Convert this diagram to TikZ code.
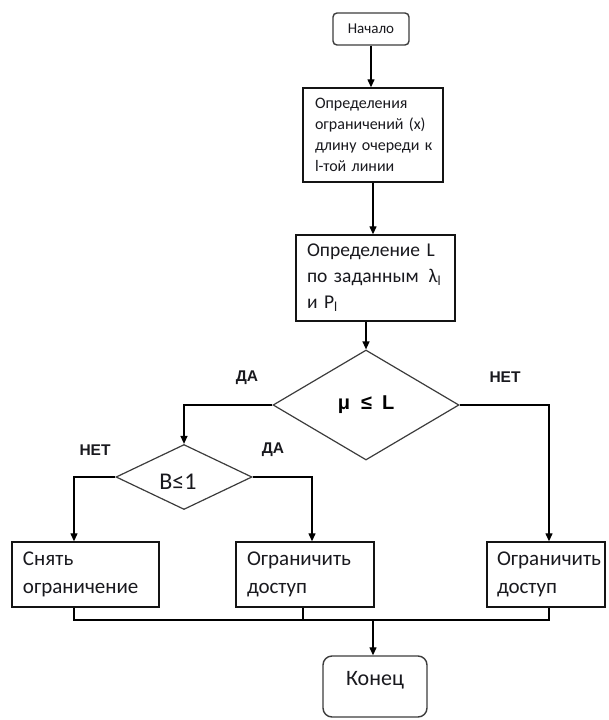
\documentclass[tikz,border=0pt]{standalone}
\usepackage{fontspec}
\setmainfont{Carlito}
\newfontfamily\labfont{Liberation Sans}
\usetikzlibrary{arrows.meta,shapes.geometric}
\hyphenpenalty=10000
\exhyphenpenalty=10000
\definecolor{ink}{RGB}{25,25,30}
\definecolor{boxline}{RGB}{20,20,20}
\definecolor{dline}{RGB}{60,60,60}
\begin{document}
\begin{tikzpicture}[x=1pt,y=-1pt,
  box/.style={draw=boxline, line width=1.4pt, rectangle, fill=white, align=left, text=ink, inner ysep=0pt},
  rbox/.style={draw=dline, line width=1.4pt, rectangle, rounded corners=#1, fill=white, text=ink, align=center},
  dia/.style={draw=dline, line width=1.2pt, diamond, inner sep=0pt, fill=white, text=black},
  lab/.style={font=\labfont\bfseries\fontsize{15.5}{17}\selectfont, text=ink},
  conn/.style={draw=black, line width=1.3pt, -{Triangle[width=7pt,length=8pt]}},
  plain/.style={draw=black, line width=1.3pt}
]
\useasboundingbox (0,0) rectangle (608,720);

% nodes
\node[rbox=4pt, minimum width=76pt, minimum height=32pt, font=\fontsize{15}{18}\selectfont] (start) at (371,29) {Начало};

\node[box, text width=116pt, inner xsep=12pt, minimum height=94pt, font=\fontsize{16}{21}\selectfont] (b2) at (373,135)
  {Определения\\ограничений~(x)\\длину~очереди~к\\l-той~линии};

\node[box, text width=137pt, inner xsep=11pt, minimum height=86pt, font=\fontsize{19.5}{26}\selectfont] (b3) at (375.5,278)
  {Определение~L\\по~заданным~\,λ\textsubscript{l}\\и~P\textsubscript{l}};

\node[dia, minimum width=186pt, minimum height=110pt, font=\labfont\bfseries\fontsize{20}{22}\selectfont] (d1) at (366,405)
  {μ\hspace{11pt}≤\hspace{10pt}L};

\node[dia, minimum width=136pt, minimum height=65pt] (d2) at (184,477) {};
\node[font=\fontsize{24}{26}\selectfont, text=ink, inner sep=0pt] (d2t) at (178,482) {B≤1};

\node[box, text width=125pt, inner xsep=11pt, minimum height=65pt, font=\fontsize{21}{28}\selectfont] (lbox) at (85.5,574.5)
  {Снять\\ограничение};
\node[box, text width=116pt, inner xsep=11pt, minimum height=65pt, font=\fontsize{21}{28}\selectfont] (mbox) at (305,574.5)
  {Ограничить\\доступ};
\node[box, text width=98pt, inner xsep=10pt, minimum height=65pt, font=\fontsize{21}{28}\selectfont] (rbox) at (546,574.5)
  {Ограничить\\доступ};

\node[rbox=9pt, minimum width=104pt, minimum height=61pt, text height=15pt, text depth=17pt, font=\fontsize{22}{24}\selectfont] (end) at (375,686.5) {Конец};

% labels
\node[lab] (l1) at (247,378) {ДА};
\node[lab] (l2) at (505,377) {НЕТ};
\node[lab] (l3) at (95,450) {НЕТ};
\node[lab] (l4) at (273,450) {ДА};

% helper coordinates
\coordinate (lx) at (74,0);
\coordinate (mx) at (312,0);
\coordinate (rx) at (549,0);
\coordinate (mbx) at (303,0);
\coordinate (join) at (373,620);

% connectors
\draw[conn] (start.south) -- (start.south |- b2.north);
\draw[conn] (b2.south) -- (b2.south |- b3.north);
\draw[conn] (d1.north |- b3.south) -- (d1.north);
\draw[conn] (d1.west) -| (d2.north);
\draw[conn] (d1.east) -| (rx |- rbox.north);
\draw[conn] (d2.west) -| (lx |- lbox.north);
\draw[conn] (d2.east) -| (mx |- mbox.north);
\draw[plain] (lx |- lbox.south) -- (lx |- join) -- (rx |- join) -- (rx |- rbox.south);
\draw[plain] (mbx |- mbox.south) -- (mbx |- join);
\draw[conn] (join) -- (join |- end.north);
\end{tikzpicture}
\end{document}
